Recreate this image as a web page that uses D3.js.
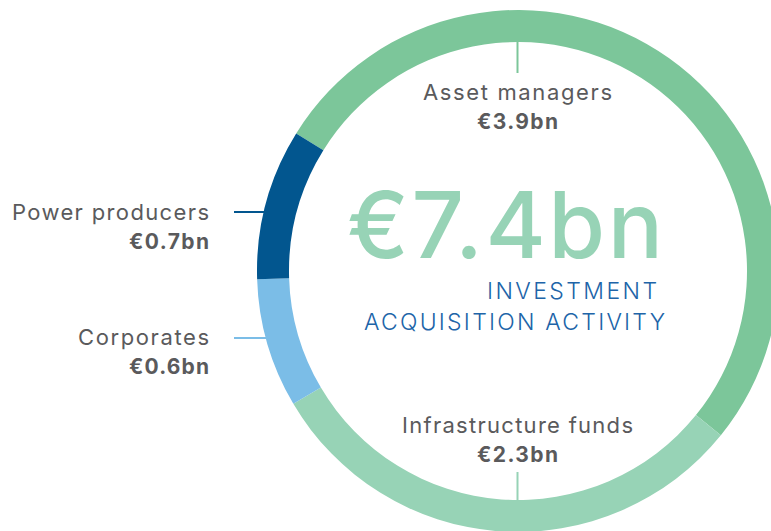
<!DOCTYPE html>
<html>
<head>
<meta charset="utf-8">
<script src="https://cdn.jsdelivr.net/npm/d3@7"></script>
<style>
  html, body { margin: 0; padding: 0; background: #fff; }
  svg { display: block; font-family: Inter, "Open Sans", sans-serif; }
</style>
</head>
<body>
<svg id="chart" width="771" height="531"></svg>
<script>
// ── data ────────────────────────────────────────────────
const categories  = ['Asset managers', 'Infrastructure funds', 'Corporates', 'Power producers'];
const values      = [3.9, 2.3, 0.6, 0.7];
const valueLabels = ['€3.9bn', '€2.3bn', '€0.6bn', '€0.7bn'];
const totalLabel  = '€7.4bn';
const subtitle    = ['INVESTMENT', 'ACQUISITION ACTIVITY'];

// ── layout ──────────────────────────────────────────────
const W = 771, H = 531;
const cx = 518, cy = 271;
const rOuter = 261, rInner = 229;
const start = -58.2 * Math.PI / 180;

const colors = ['#7cc69a', '#97d3b6', '#7bbde7', '#02568f'];

// label placement per category (same order as categories)
const labelPos = [
  { x: 517.5, y: 100, anchor: 'middle', lw: 189, vw: 81, leader: { kind: 'v', y1: cy - rInner, y2: 73 } },
  { x: 517.5, y: 433, anchor: 'middle', lw: 231, vw: 81, leader: { kind: 'v', y1: cy + rInner, y2: 472 } },
  { x: 209,   y: 345, anchor: 'end',    lw: 131, vw: 80, leader: { kind: 'h', y: 338 } },
  { x: 209,   y: 220, anchor: 'end',    lw: 197, vw: 80, leader: { kind: 'h', y: 212 } }
];

const svg = d3.select('#chart');
svg.append('rect').attr('width', W).attr('height', H).attr('fill', '#fff');

const g = svg.append('g').attr('transform', `translate(${cx},${cy})`);

const pie = d3.pie().sort(null).value(d => d)
  .startAngle(start).endAngle(start + 2 * Math.PI);
const arc = d3.arc().innerRadius(rInner).outerRadius(rOuter);

g.selectAll('path.seg')
  .data(pie(values))
  .join('path')
  .attr('class', 'seg')
  .attr('d', arc)
  .attr('fill', (d, i) => colors[i]);

// ── leader lines ────────────────────────────────────────
labelPos.forEach((p, i) => {
  const L = p.leader;
  if (L.kind === 'v') {
    svg.append('line')
      .attr('x1', 517.5).attr('x2', 517.5)
      .attr('y1', L.y1).attr('y2', L.y2)
      .attr('stroke', colors[i]).attr('stroke-width', 2);
  } else {
    const dy = L.y - cy;
    const xRing = cx - Math.sqrt(rOuter * rOuter - dy * dy) + 3;
    svg.append('line')
      .attr('x1', 234).attr('x2', xRing)
      .attr('y1', L.y).attr('y2', L.y)
      .attr('stroke', colors[i]).attr('stroke-width', 2);
  }
});

// ── labels ──────────────────────────────────────────────
labelPos.forEach((p, i) => {
  svg.append('text')
    .attr('x', p.x).attr('y', p.y)
    .attr('text-anchor', p.anchor)
    .attr('font-size', 22)
    .attr('fill', '#5a5a5c')
    .attr('textLength', p.lw).attr('lengthAdjust', 'spacing')
    .text(categories[i]);
  svg.append('text')
    .attr('x', p.x).attr('y', p.y + 29)
    .attr('text-anchor', p.anchor)
    .attr('font-size', 21)
    .attr('font-weight', 700)
    .attr('fill', '#5a5a5c')
    .attr('textLength', p.vw).attr('lengthAdjust', 'spacing')
    .text(valueLabels[i]);
});

// ── centre text ─────────────────────────────────────────
svg.append('text')
  .attr('x', 663).attr('y', 258)
  .attr('text-anchor', 'end')
  .attr('font-size', 92)
  .attr('font-weight', 500)
  .attr('fill', '#97d3b6')
  .attr('textLength', 316).attr('lengthAdjust', 'spacing')
  .text(totalLabel);

const subPos = [
  { x: 657, y: 299, w: 170 },
  { x: 665, y: 330, w: 301 }
];
subtitle.forEach((s, i) => {
  svg.append('text')
    .attr('x', subPos[i].x).attr('y', subPos[i].y)
    .attr('text-anchor', 'end')
    .attr('font-size', 23)
    .attr('font-weight', 300)
    .attr('fill', '#2064a8')
    .attr('textLength', subPos[i].w).attr('lengthAdjust', 'spacing')
    .text(s);
});
</script>
</body>
</html>
